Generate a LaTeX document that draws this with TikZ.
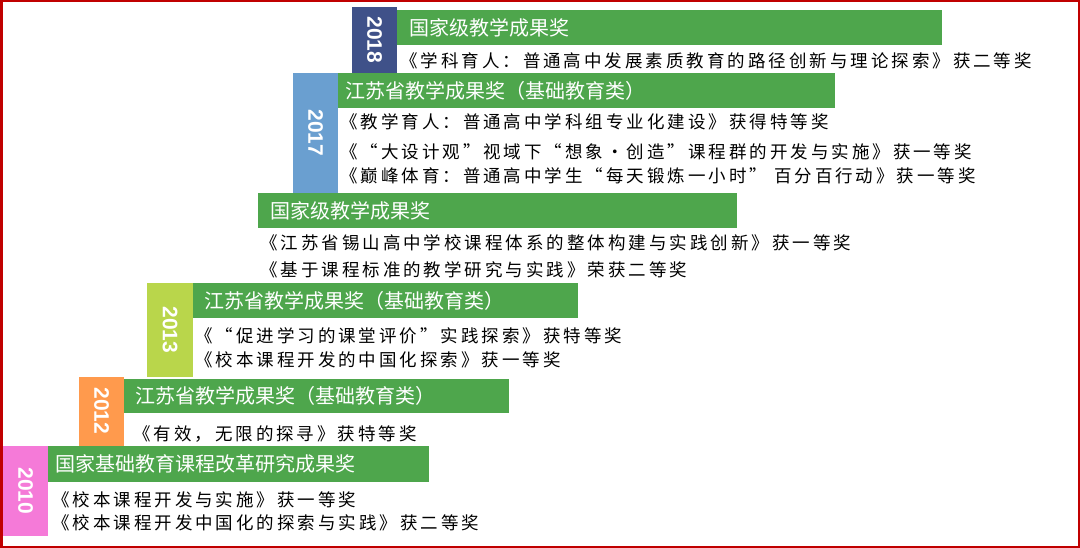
\documentclass[tikz,border=0pt]{standalone}
\usepackage{fontspec}
\setmainfont{Noto Sans CJK SC}
\newfontfamily\body[LetterSpace=17]{Noto Sans CJK SC}
\newfontfamily\yearf{Liberation Sans}
\definecolor{gbar}{HTML}{4EA64C}
\definecolor{bordc}{HTML}{C00000}
\definecolor{c18}{HTML}{3F5189}\definecolor{c17}{HTML}{6A9FD0}\definecolor{c13}{HTML}{B9D64B}\definecolor{c12}{HTML}{FF9A4D}\definecolor{c10}{HTML}{F57AD8}
\begin{document}
\begin{tikzpicture}[x=1pt,y=-1pt,
  ytext/.style={text=white,font=\yearf\bfseries\fontsize{21}{21}\selectfont,rotate=-90},
  htext/.style={text=white,anchor=west,font=\fontsize{20}{21}\selectfont,inner sep=0},
  btext/.style={anchor=west,font=\body\fontsize{17.5}{18}\selectfont,inner sep=0}]
\useasboundingbox (0,0) rectangle (1080,548);
\fill[white] (0,0) rectangle (1080,548);
\draw[bordc,line width=2.5] (1.25,1.25) rectangle (1078.75,546.75);
% 2018
\fill[c18] (352,7) rectangle (397,73);
\node[ytext] (y18) at (374.5,40) {2018};
\fill[gbar] (397,10) rectangle (942,45);
\node[htext] (h18) at (409,27.5) {国家级教学成果奖};
\node[btext] (b18) at (400,61) {《学科育人：普通高中发展素质教育的路径创新与理论探索》获二等奖};
% 2017
\fill[c17] (293,73) rectangle (338,193);
\node[ytext] (y17) at (315.5,133) {2017};
\fill[gbar] (338,73) rectangle (835,108);
\node[htext] (h17) at (345,90.5) {江苏省教学成果奖（基础教育类）};
\node[btext] (b17a) at (340,122) {《教学育人：普通高中学科组专业化建设》获得特等奖};
\node[btext] (b17b) at (340,152) {《“大设计观”视域下“想象•创造”课程群的开发与实施》获一等奖};
\node[btext] (b17c) at (340,176) {《巅峰体育：普通高中学生“每天锻炼一小时” 百分百行动》获一等奖};
% national (no year)
\fill[gbar] (258,193) rectangle (737,228);
\node[htext] (hn) at (270,210.5) {国家级教学成果奖};
\node[btext] (bna) at (260,243) {《江苏省锡山高中学校课程体系的整体构建与实践创新》获一等奖};
\node[btext] (bnb) at (260,270) {《基于课程标准的教学研究与实践》荣获二等奖};
% 2013
\fill[c13] (147,283) rectangle (193,377);
\node[ytext] (y13) at (170,330) {2013};
\fill[gbar] (193,283) rectangle (578,318);
\node[htext] (h13) at (204,300.5) {江苏省教学成果奖（基础教育类）};
\node[btext] (b13a) at (195,336) {《“促进学习的课堂评价”实践探索》获特等奖};
\node[btext] (b13b) at (195,360) {《校本课程开发的中国化探索》获一等奖};
% 2012
\fill[c12] (79,377) rectangle (124,446);
\node[ytext] (y12) at (101.5,411) {2012};
\fill[gbar] (124,379) rectangle (509,413);
\node[htext] (h12) at (135,396) {江苏省教学成果奖（基础教育类）};
\node[btext] (b12) at (133,434) {《有效，无限的探寻》获特等奖};
% 2010
\fill[c10] (3,446) rectangle (48,536);
\node[ytext] (y10) at (25.5,491) {2010};
\fill[gbar] (48,446) rectangle (429,482);
\node[htext] (h10) at (55,464) {国家基础教育课程改革研究成果奖};
\node[btext] (b10a) at (52,500) {《校本课程开发与实施》获一等奖};
\node[btext] (b10b) at (52,523) {《校本课程开发中国化的探索与实践》获二等奖};
\end{tikzpicture}
\end{document}
